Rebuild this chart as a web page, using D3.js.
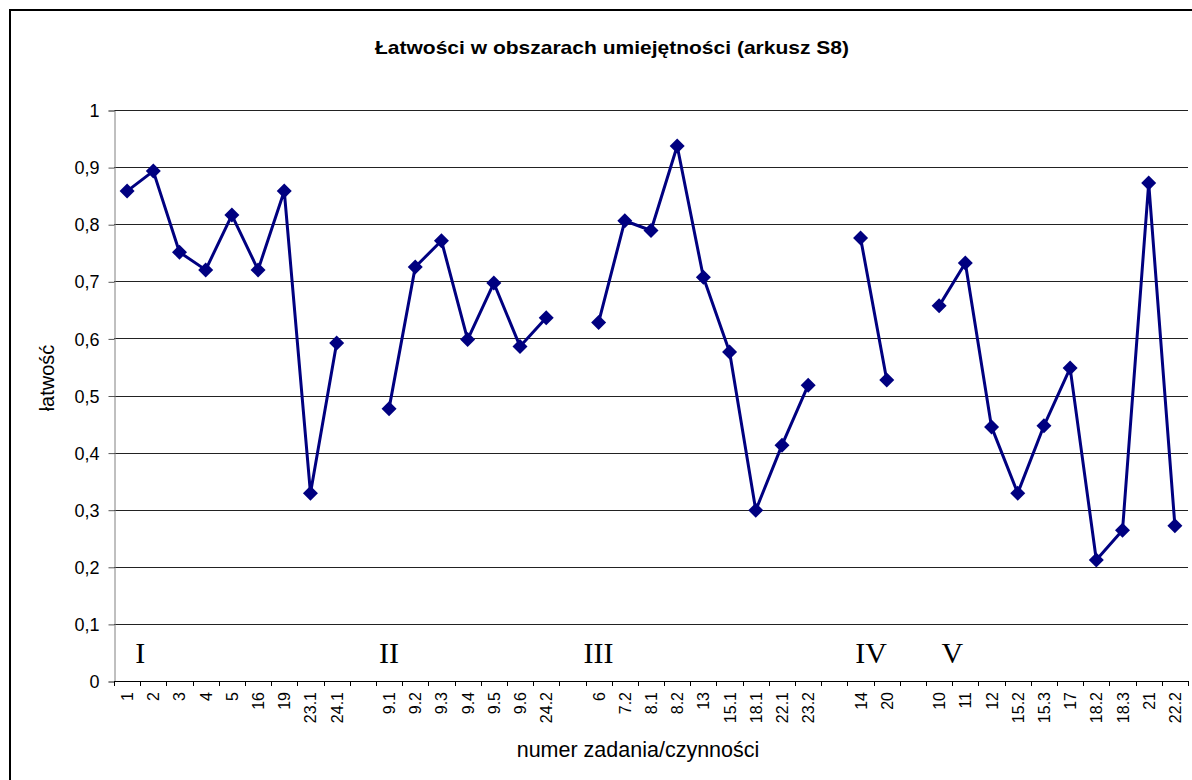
<!DOCTYPE html>
<html>
<head>
<meta charset="utf-8">
<script src="https://cdn.jsdelivr.net/npm/d3@7"></script>
<style>
  body { margin: 0; background: #fff; }
  text { font-family: "Liberation Sans", Arial, sans-serif; }
</style>
</head>
<body>
<svg id="chart" width="1192" height="780"></svg>
<script>
// categories (empty strings = gaps between skill areas)
const categories = [
  '1','2','3','4','5','16','19','23.1','24.1','',
  '9.1','9.2','9.3','9.4','9.5','9.6','24.2','',
  '6','7.2','8.1','8.2','13','15.1','18.1','22.1','23.2','',
  '14','20','',
  '10','11','12','15.2','15.3','17','18.2','18.3','21','22.2'
];
const values = [
  0.858, 0.893, 0.751, 0.720, 0.816, 0.720, 0.858, 0.329, 0.592, null,
  0.477, 0.725, 0.771, 0.598, 0.697, 0.586, 0.636, null,
  0.628, 0.806, 0.789, 0.937, 0.707, 0.576, 0.299, 0.413, 0.518, null,
  0.776, 0.527, null,
  0.657, 0.732, 0.445, 0.329, 0.447, 0.548, 0.212, 0.264, 0.872, 0.272
];
const yTicks = [0, 0.1, 0.2, 0.3, 0.4, 0.5, 0.6, 0.7, 0.8, 0.9, 1];
// skill area labels and the (fractional) category slot they sit over
const areaLabels = ['I', 'II', 'III', 'IV', 'V'];
const areaSlot = [0.5, 10, 18, 28.4, 31.5];

const svg = d3.select('#chart');
const plotL = 114, plotR = 1188, plotT = 110, plotB = 681;

// outer chart frame (right/bottom edges run off the picture)
svg.append('rect')
  .attr('x', 10).attr('y', 10).attr('width', 1230).attr('height', 800)
  .attr('fill', 'none').attr('stroke', '#000').attr('stroke-width', 2);

const x = d3.scaleBand().domain(d3.range(categories.length)).range([plotL, plotR]);
const y = d3.scaleLinear().domain([0, 1]).range([plotB, plotT]);
const cx = i => x(i) + x.bandwidth() / 2;
// continuous version of the band scale for label placement
const xs = d3.scaleLinear().domain([0, categories.length - 1]).range([cx(0), cx(categories.length - 1)]);

// gridlines
svg.append('g').selectAll('line').data(yTicks.filter(d => d > 0)).join('line')
  .attr('x1', plotL).attr('x2', plotR)
  .attr('y1', d => Math.round(y(d)) + 0.5).attr('y2', d => Math.round(y(d)) + 0.5)
  .attr('stroke', '#222').attr('stroke-width', 1);

// y axis
const yAxis = d3.axisLeft(y).tickValues(yTicks).tickSize(6).tickPadding(9)
  .tickFormat(d => d3.format('.1~f')(d).replace('.', ','));
const gy = svg.append('g').attr('transform', `translate(${plotL + 0.5},0.5)`).call(yAxis);
gy.select('.domain').attr('stroke', '#808080');
gy.selectAll('.tick line').attr('stroke', '#555');
gy.selectAll('text').attr('font-size', 18).attr('fill', '#000').attr('dy', '0.34em');

// x axis: ticks between categories, labels rotated
const gx = svg.append('g');
gx.append('line').attr('x1', plotL).attr('x2', plotR)
  .attr('y1', plotB + 0.5).attr('y2', plotB + 0.5).attr('stroke', '#000');
gx.selectAll('line.tk').data(d3.range(categories.length + 1)).join('line')
  .attr('class', 'tk')
  .attr('x1', i => Math.round(plotL + i * x.step()) + 0.5)
  .attr('x2', i => Math.round(plotL + i * x.step()) + 0.5)
  .attr('y1', plotB).attr('y2', plotB + 5).attr('stroke', '#000');
gx.selectAll('text').data(categories).join('text')
  .attr('transform', (d, i) => `translate(${cx(i) + 6},${plotB + 11}) rotate(-90)`)
  .attr('text-anchor', 'end').attr('font-size', 16)
  .text(d => d);

// line, broken at the gaps
const line = d3.line()
  .defined(d => d != null)
  .x((d, i) => cx(i))
  .y(d => y(d));
svg.append('path').datum(values)
  .attr('d', line).attr('fill', 'none')
  .attr('stroke', '#000080').attr('stroke-width', 3).attr('stroke-linejoin', 'round');

// diamond markers
const diamond = 'M0,-7.5L7.5,0L0,7.5L-7.5,0Z';
svg.append('g').selectAll('path')
  .data(values.map((v, i) => ({ v, i })).filter(d => d.v != null))
  .join('path')
  .attr('transform', d => `translate(${cx(d.i)},${y(d.v)})`)
  .attr('d', diamond).attr('fill', '#000080');

// skill area roman numerals
svg.append('g').selectAll('text').data(areaLabels).join('text')
  .attr('x', (d, k) => xs(areaSlot[k]))
  .attr('y', 663)
  .attr('text-anchor', 'middle')
  .style('font-family', '"Liberation Serif", "Times New Roman", serif')
  .attr('font-size', 30)
  .text(d => d);

// titles
svg.append('text').attr('x', 612).attr('y', 54).attr('text-anchor', 'middle')
  .attr('font-size', 19).attr('font-weight', 'bold')
  .attr('textLength', 474).attr('lengthAdjust', 'spacingAndGlyphs')
  .text('Łatwości w obszarach umiejętności (arkusz S8)');
svg.append('text').attr('x', 638).attr('y', 757).attr('text-anchor', 'middle')
  .attr('font-size', 21.5)
  .text('numer zadania/czynności');
svg.append('text').attr('transform', 'translate(54,378) rotate(-90)')
  .attr('text-anchor', 'middle').attr('font-size', 20)
  .text('łatwość');
</script>
</body>
</html>
